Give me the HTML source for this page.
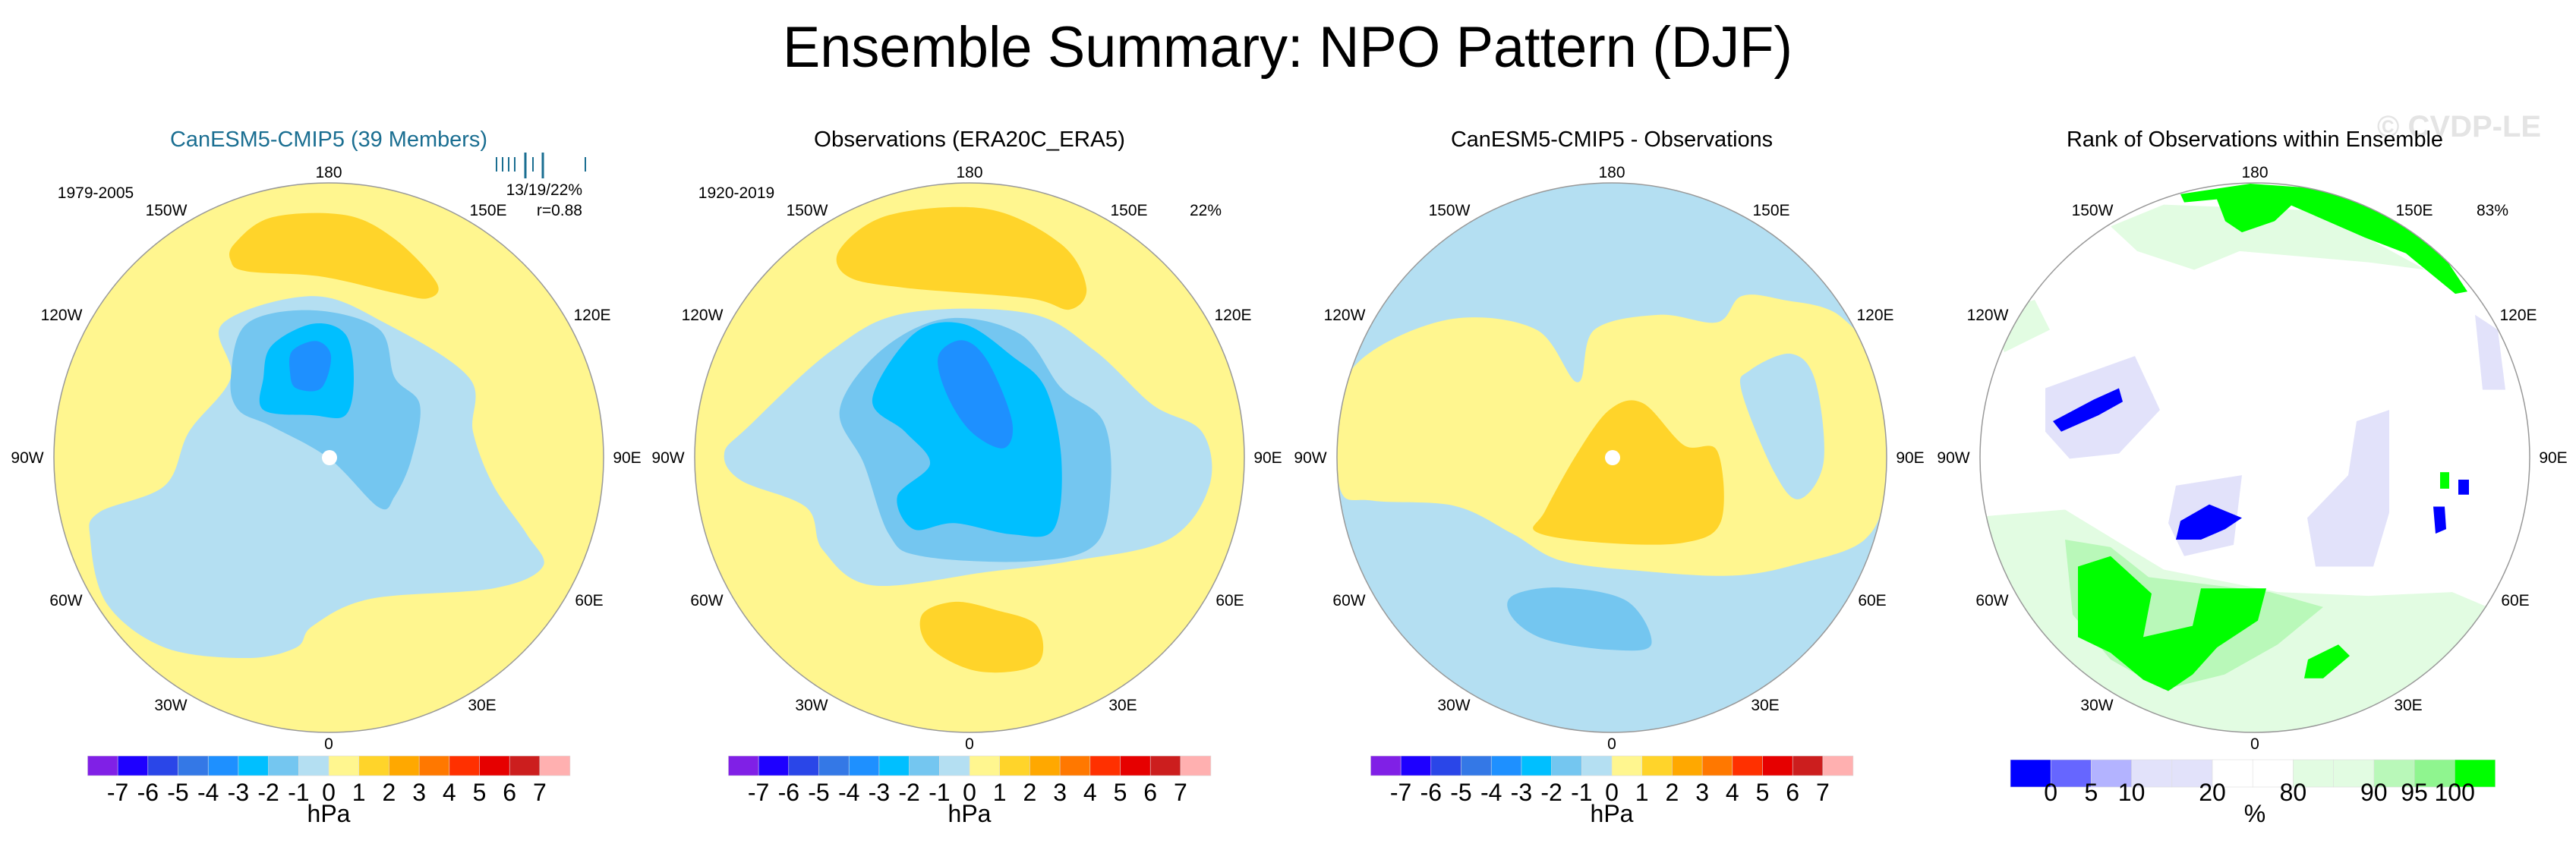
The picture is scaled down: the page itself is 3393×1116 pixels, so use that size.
<!DOCTYPE html>
<html><head><meta charset="utf-8"><title>Ensemble Summary: NPO Pattern (DJF)</title>
<style>
html,body{margin:0;padding:0;background:#fff;}
svg{display:block;font-family:"Liberation Sans",Arial,sans-serif;}
</style></head>
<body>
<svg id="fig" width="3393" height="1116" viewBox="0 0 3393 1116" xmlns="http://www.w3.org/2000/svg">
<text x="1696" y="88" font-size="76" text-anchor="middle" textLength="1330" lengthAdjust="spacingAndGlyphs">Ensemble Summary: NPO Pattern (DJF)</text>
<text x="3239" y="180" font-size="40" font-weight="bold" fill="#e4e4e4" text-anchor="middle">© CVDP-LE</text>
<g id="maps"></g>
<g id="bars"></g>
</svg>
<script>
// colorbar data
const hpaLabels = ["-7","-6","-5","-4","-3","-2","-1","0","1","2","3","4","5","6","7"];
const hpaColors = ["#8020e6","#1e00ff","#2a46e8","#3478e6","#1e90ff","#00bfff","#74c6f0","#b4dff2","#fff68f","#ffd42a","#ffa800","#ff7800","#ff3000","#e60000","#cc1e1e","#ffb0b0"];
const pctLabels = ["0","5","10","20","80","90","95","100"];
const pctLabelIdx = [1,2,3,5,7,9,10,11];
const pctColors = ["#0000ff","#6666ff","#b3b3ff","#e2e2fa","#e2e2fa","#ffffff","#ffffff","#e2fce2","#e2fce2","#b9f8b9","#8ff58f","#00ff00"];

const NS="http://www.w3.org/2000/svg";
const svg=document.getElementById('fig');
const maps=document.getElementById('maps');
const bars=document.getElementById('bars');
function mk(tag,attrs,parent){const e=document.createElementNS(NS,tag);for(const k in attrs)e.setAttribute(k,attrs[k]);(parent||svg).appendChild(e);return e;}
function smooth(pts){
  const p=pts.map(q=>[q[0],q[1]*0.9875]);const n=p.length;let d=`M${p[0][0]},${p[0][1]}`;
  for(let i=0;i<n;i++){const p0=p[(i-1+n)%n],p1=p[i],p2=p[(i+1)%n],p3=p[(i+2)%n];
    const c1=[p1[0]+(p2[0]-p0[0])/6,p1[1]+(p2[1]-p0[1])/6],c2=[p2[0]-(p3[0]-p1[0])/6,p2[1]-(p3[1]-p1[1])/6];
    d+=` C${c1[0]},${c1[1]} ${c2[0]},${c2[1]} ${p2[0]},${p2[1]}`;}
  return d+'Z';
}
function blocky(pts){const p=pts.map(q=>[q[0],q[1]*0.9875]);return 'M'+p.map(q=>q.join(',')).join(' L')+'Z';}

const centers=[433,1277,2123,2970];const CY=603,R=362;
const bgColors=["#fff68f","#fff68f","#b4dff2","#ffffff"];
const titles=["CanESM5-CMIP5 (39 Members)","Observations (ERA20C_ERA5)","CanESM5-CMIP5 - Observations","Rank of Observations within Ensemble"];
const titleW=[418,410,424,496];

const shapes=[
 [ // panel 1
  ["#b4dff2",[[293,432],[412,395],[509,432],[618,504],[623,576],[650,648],[694,713],[715,756],[650,785],[488,799],[412,835],[390,864],[325,878],[217,864],[141,806],[119,720],[130,684],[217,648],[249,576],[304,504]]],
  ["#74c6f0",[[325,432],[412,414],[499,439],[520,504],[553,540],[542,612],[520,662],[499,677],[434,612],[358,569],[314,547],[304,504]]],
  ["#00bfff",[[358,461],[412,432],[455,446],[466,504],[455,554],[412,554],[347,547],[347,504]]],
  ["#1e90ff",[[385,468],[417,455],[436,475],[423,518],[390,518],[382,497]]],
  ["#ffd42a",[[309,325],[358,290],[455,287],[520,319],[575,377],[564,398],[520,391],[423,369],[325,362],[304,348]]]
 ],
 [ // panel 2
  ["#b4dff2",[[986,569],[1095,468],[1192,418],[1355,418],[1442,468],[1518,540],[1583,576],[1593,648],[1539,720],[1409,749],[1301,763],[1149,781],[1084,734],[1062,677],[976,641],[954,605]]],
  ["#74c6f0",[[1106,547],[1160,468],[1247,425],[1344,446],[1398,518],[1453,562],[1463,648],[1442,727],[1355,749],[1214,742],[1171,713],[1138,619]]],
  ["#00bfff",[[1149,533],[1203,446],[1268,432],[1333,475],[1377,518],[1398,612],[1388,706],[1333,713],[1257,698],[1203,706],[1182,662],[1225,619],[1192,576]]],
  ["#1e90ff",[[1236,475],[1268,454],[1301,482],[1333,562],[1322,598],[1279,576],[1247,526]]],
  ["#ffd42a",[[1106,333],[1171,287],[1301,279],[1398,326],[1431,384],[1409,413],[1355,398],[1192,384],[1117,369]]],
  ["#ffd42a",[[1214,821],[1257,803],[1312,814],[1366,835],[1366,886],[1290,896],[1225,864]]]
 ],
 [ // panel 3
  ["#fff68f",[[1765,530],[1808,468],[1916,425],[2024,440],[2078,510],[2100,440],[2186,420],[2262,430],[2294,395],[2348,400],[2424,422],[2478,504],[2483,648],[2456,720],[2370,752],[2283,768],[2164,762],[2056,748],[1992,712],[1916,675],[1808,668],[1765,652]]],
  ["#ffd42a",[[2078,604],[2121,546],[2164,538],[2218,594],[2262,602],[2267,695],[2218,724],[2110,724],[2024,710],[2035,682]]],
  ["#74c6f0",[[1992,795],[2056,784],[2143,802],[2175,860],[2121,867],[2035,853],[1992,824]]],
  ["#b4dff2",[[2305,494],[2359,472],[2391,508],[2402,616],[2370,666],[2337,630],[2294,522]]]
 ],
 [ // panel 4
  ["#e2fce2",[[2600,690],[2720,680],[2850,760],[3000,790],[3120,795],[3230,790],[3300,820],[3300,1000],[2600,1000]]],
  ["#b9f8b9",[[2720,720],[2780,730],[2830,770],[2990,790],[3060,810],[3000,860],[2930,900],[2850,920],[2780,880],[2730,820]]],
  ["#e2fce2",[[2780,302],[2850,273],[3055,281],[3130,324],[3195,360],[3120,350],[2950,335],[2890,360],[2815,335]]],
  ["#e2fce2",[[2620,420],[2680,400],[2700,440],[2640,470]]],
  ["#e2e2fa",[[2694,518],[2812,475],[2845,547],[2791,605],[2726,612],[2694,576]]],
  ["#e2e2fa",[[3104,562],[3147,547],[3147,684],[3126,756],[3050,756],[3039,691],[3093,634]]],
  ["#e2e2fa",[[2866,648],[2953,634],[2942,727],[2877,742],[2856,698]]],
  ["#e2e2fa",[[3260,420],[3290,440],[3300,520],[3270,520]]],
  ["#00ff00",[[2737,756],[2780,742],[2834,792],[2823,850],[2888,835],[2899,785],[2985,785],[2974,828],[2920,864],[2888,900],[2856,922],[2823,907],[2780,871],[2737,850]]],
  ["#00ff00",[[2872,259],[2964,245],[3061,252],[3147,281],[3212,331],[3250,389],[3234,392],[3169,338],[3115,317],[3018,274],[2996,295],[2953,310],[2931,295],[2920,266],[2877,270]]],
  ["#00ff00",[[3040,880],[3080,860],[3095,875],[3060,905],[3035,905]]],
  ["#0000ff",[[2704,562],[2758,533],[2791,518],[2796,536],[2764,554],[2715,576]]],
  ["#0000ff",[[2872,695],[2910,673],[2953,691],[2931,706],[2899,720],[2866,720]]],
  ["#0000ff",[[3205,676],[3220,676],[3222,706],[3208,712]]],
  ["#0000ff",[[3238,640],[3252,640],[3252,660],[3238,660]]],
  ["#00ff00",[[3214,630],[3226,630],[3226,652],[3214,652]]]
 ]
];

const lonLabels=[["180",0,-376],["150W",-214,-326],["120W",-352,-188],["90W",-397,0],["60W",-346,188],["30W",-208,326],["0",0,377],["30E",202,326],["60E",343,188],["90E",393,0],["120E",347,-188],["150E",210,-326]];

centers.forEach((cx,pi)=>{
  const g=mk('g',{},maps);
  
  
  const cp=mk('clipPath',{id:'clip'+pi},g);
  mk('circle',{cx:cx,cy:CY,r:R},cp);
  const disk=mk('circle',{cx:cx,cy:CY,r:R,fill:bgColors[pi]},g);
  
  
  const sg=mk('g',{'clip-path':`url(#clip${pi})`},g);
  shapes[pi].forEach(s=>{
    const p=mk('path',{d:pi===3?blocky(s[1]):smooth(s[1]),fill:s[0]},sg);
    
    
  });
  if(pi===0||pi===2){const dot=mk('circle',{cx:cx+1,cy:CY,r:10,fill:'#fff'},g);
    }
  const ol=mk('circle',{cx:cx,cy:CY,r:R,fill:'none',stroke:'#999',"stroke-width":1.5},g);
  
  lonLabels.forEach(l=>{
    const t=mk('text',{x:cx+l[1],y:CY+l[2]+7,'font-size':21,'text-anchor':'middle'},g);
    t.textContent=l[0];
    
    
  });
  const tt=mk('text',{x:cx,y:193,'font-size':29,'text-anchor':'middle',fill:pi===0?'#1a6e91':'#000',textLength:titleW[pi],lengthAdjust:'spacingAndGlyphs'},g);
  tt.textContent=titles[pi];
  
  

  // colorbar
  const cb=mk('g',{},bars);
  
  
  if(pi<3){
    const w=39.7,x0=cx-8*w;
    hpaColors.forEach((c,i)=>{const r=mk('rect',{x:x0+i*w,y:996,width:w+0.3,height:26,fill:c,stroke:'#ddd','stroke-width':0.6},cb);
      });
    hpaLabels.forEach((l,i)=>{const t=mk('text',{x:x0+(i+1)*w,y:1055,'font-size':32,'text-anchor':'middle'},cb);t.textContent=l;
      });
    const u=mk('text',{x:cx,y:1083,'font-size':32,'text-anchor':'middle'},cb);u.textContent='hPa';
    
  } else {
    const w=53.2,x0=2648;
    pctColors.forEach((c,i)=>{const r=mk('rect',{x:x0+i*w,y:1001,width:w+0.3,height:36,fill:c,stroke:'#ddd','stroke-width':0.6},cb);
      });
    pctLabels.forEach((l,i)=>{const t=mk('text',{x:x0+pctLabelIdx[i]*w,y:1055,'font-size':32,'text-anchor':'middle'},cb);t.textContent=l;
      });
    const u=mk('text',{x:cx,y:1083,'font-size':32,'text-anchor':'middle'},cb);u.textContent='%';
    
  }
});

// annotations
const notes=[["1979-2005",126,261,"middle"],["13/19/22%",767,257,"end"],["r=0.88",767,284,"end"],["1920-2019",970,261,"middle"],["22%",1588,284,"middle"],["83%",3283,284,"middle"]];
notes.forEach(n=>{const t=mk('text',{x:n[1],y:n[2],'font-size':21,'text-anchor':n[3]});t.textContent=n[0];
  });

// member rank ticks
const tickX=[654,662,670,678,692,702,715,771];
const tickTall=[0,0,0,0,1,0,1,0];
tickX.forEach((x,i)=>{const l=mk('line',{x1:x,x2:x,y1:tickTall[i]?201:207,y2:tickTall[i]?235:226,stroke:'#1a6e91','stroke-width':tickTall[i]?3:2});
  });
</script>
</body></html>
